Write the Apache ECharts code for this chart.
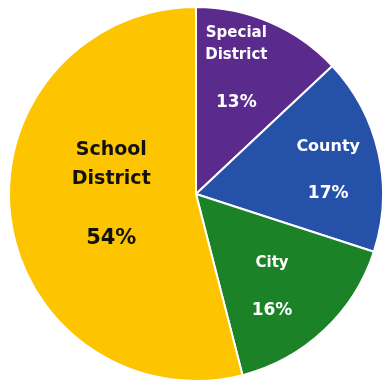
<!DOCTYPE html>
<html>
<head>
<meta charset="utf-8">
<script src="https://cdn.jsdelivr.net/npm/echarts@6/dist/echarts.min.js"></script>
<style>html,body{margin:0;padding:0;background:#fff;}#c{width:383px;height:382px;}</style>
</head>
<body>
<div id="c"></div>
<script>
const categories = ['Special District', 'County', 'City', 'School District'];
const nameLines = [['Special', 'District'], ['County'], ['City'], ['School', 'District']];
const values = [13, 17, 16, 54];
const pctLabels = ['13%', '17%', '16%', '54%'];
const colors = ['#5a2b8d', '#2552a8', '#1b8228', '#fdc500'];
const labelOffsets = [[2, -25], [38, 10], [10, 35], [11, 3]];

const small = {
  n: { fontFamily: 'DejaVu Sans', fontWeight: 'bold', fontSize: 15, color: '#fff', lineHeight: 22 },
  p: { fontFamily: 'DejaVu Sans', fontWeight: 'bold', fontSize: 17, color: '#fff', lineHeight: 72 }
};
const big = {
  n: { fontFamily: 'DejaVu Sans', fontWeight: 'bold', fontSize: 19, color: '#111', lineHeight: 29 },
  p: { fontFamily: 'DejaVu Sans', fontWeight: 'bold', fontSize: 21, color: '#111', lineHeight: 89 }
};

const data = categories.map((c, i) => {
  const isBig = i === 3;
  const rich = isBig ? big : JSON.parse(JSON.stringify(small));
  if (i === 1) rich.n.fontSize = 16;
  const txt = nameLines[i].map(l => '{n|' + l + '}').join('\n') + '\n{p|' + pctLabels[i] + '}';
  return {
    name: c,
    value: values[i],
    itemStyle: { color: colors[i] },
    label: { formatter: txt, rich: rich, offset: labelOffsets[i] }
  };
});

const chart = echarts.init(document.getElementById('c'), null, { renderer: 'canvas' });
chart.setOption({
  animation: false,
  backgroundColor: '#fff',
  series: [{
    type: 'pie',
    center: [196, 194],
    radius: [0, 187],
    startAngle: 90,
    clockwise: true,
    data: data,
    itemStyle: { borderColor: '#fff', borderWidth: 2 },
    label: { show: true, position: 'inside' },
    labelLine: { show: false },
    emphasis: { disabled: true }
  }]
});
</script>
</body>
</html>
